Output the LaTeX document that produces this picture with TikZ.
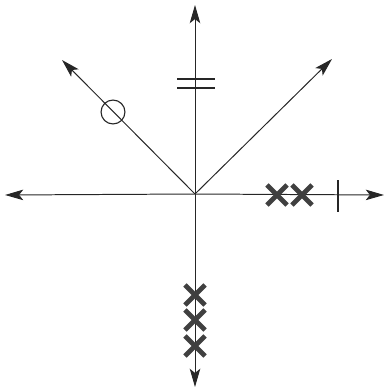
\documentclass[tikz,border=0pt]{standalone}
\usetikzlibrary{arrows.meta,shapes.misc}

\begin{document}
\begin{tikzpicture}[
  x=0.025cm, y=-0.025cm,
  axis/.style={-{Stealth[length=13pt,width=7.5pt,inset=3pt]}, line width=0.7pt, draw=black!85},
  pole/.style={cross out, draw=black!75, line width=3.3pt, minimum size=11pt, inner sep=0pt},
  zero/.style={circle, draw=black!85, line width=0.8pt, minimum size=17pt, inner sep=0pt},
  mark line/.style={line width=0.9pt, draw=black!85}
]
\useasboundingbox (0,0) rectangle (386,390);
\coordinate (o) at (195,194);
\coordinate (up) at (195,5);
\coordinate (down) at (195,387);
\coordinate (left) at (5,195);
\coordinate (right) at (384,195);
\coordinate (ul) at (62,60);
\coordinate (ur) at (332,59);
% axes and asymptotes
\foreach \tip in {up,down,left,right,ul,ur}
  \draw[axis] (o) -- (\tip);
% zero on the asymptote
\node[zero] (z1) at (113,112) {};
% double zero marker
\coordinate (e1a) at (177,79);
\coordinate (e1b) at (215,79);
\coordinate (e2a) at (177,88);
\coordinate (e2b) at (215,88);
\draw[mark line] (e1a) -- (e1b);
\draw[mark line] (e2a) -- (e2b);
% break-away tick
\coordinate (ta) at (338,180);
\coordinate (tb) at (338,212);
\draw[mark line] (ta) -- (tb);
% poles
\node[pole] (p1) at (277,195) {};
\node[pole] (p2) at (302,195) {};
\node[pole] (p3) at (195,295) {};
\node[pole] (p4) at (195,320) {};
\node[pole] (p5) at (195,346) {};
\end{tikzpicture}
\end{document}
